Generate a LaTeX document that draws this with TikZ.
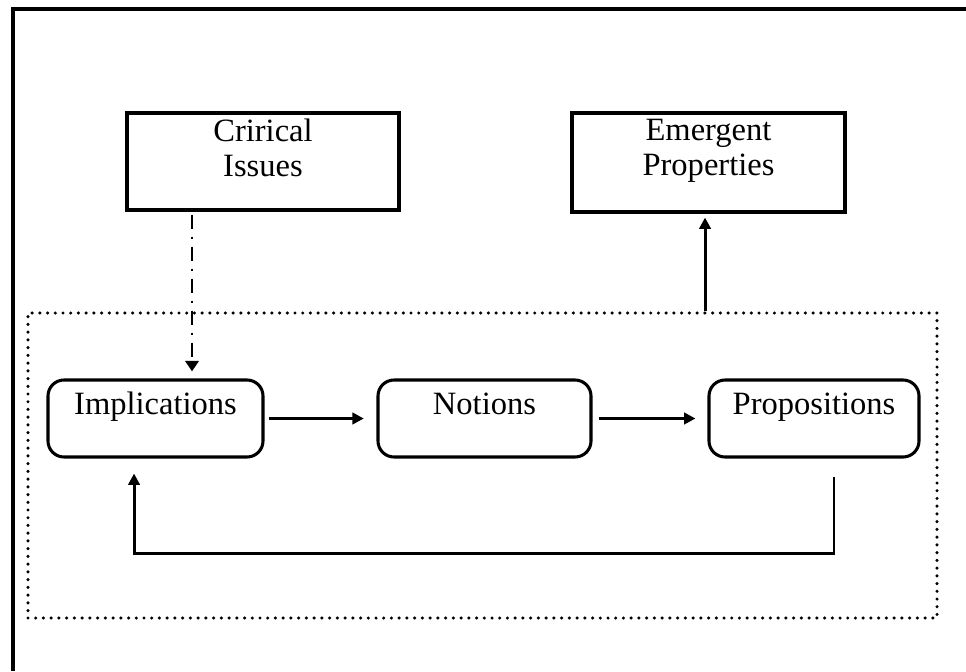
\documentclass[tikz,border=0pt]{standalone}
\usepackage{fontspec}
\setmainfont{Liberation Serif}
\usetikzlibrary{arrows.meta}
\begin{document}
\begin{tikzpicture}[x=0.75pt,y=-0.75pt,
  frame/.style={line width=3pt},
  txt/.style={font=\fontsize{24.4}{26}\selectfont, inner sep=0pt, align=center},
  sqbox/.style={draw, line width=2.3pt, inner sep=0pt},
  rbox/.style={draw, line width=2.3pt, rounded corners=12pt, inner sep=0pt,
    minimum height=57.75pt, text height=25.5pt, text depth=32.25pt,
    font=\fontsize{24.4}{26}\selectfont},
  dotbox/.style={draw, line width=2.6pt, line cap=round,
    dash pattern=on 0pt off 5.8pt, inner sep=0pt},
  arr/.style={line width=2.2pt, -{Triangle[length=8.5pt,width=8.5pt]}},
  dasharr/.style={line width=2.2pt,
    dash pattern=on 10.5pt off 6pt on 1.5pt off 6pt,
    -{Triangle[length=8pt,width=10pt]}}
]
\useasboundingbox (0,0) rectangle (966,671);

% outer frame (left and top edges)
\draw[frame] (13,671) -- (13,9) -- (966,9);

% upper boxes
\node[sqbox, minimum width=204pt, minimum height=72.75pt] (crit) at (263,161.5) {};
\node[txt, anchor=north] (critT) at ([yshift=-5.5pt]crit.north) {Crirical\\Issues};
\node[sqbox, minimum width=204.75pt, minimum height=74.25pt] (emerg) at (708.5,162.5) {};
\node[txt, anchor=north] (emergT) at ([yshift=-5.5pt]emerg.north) {Emergent\\Properties};

% dotted grouping frame
\node[dotbox, minimum width=681.75pt, minimum height=228.75pt] (group) at (482.5,465.5) {};

% process boxes
\node[rbox, minimum width=161.25pt] (impl) at (155.5,418.5) {Implications};
\node[rbox, minimum width=159.75pt] (notions) at (484.5,418.5) {Notions};
\node[rbox, minimum width=157.5pt] (props) at (814,418.5) {Propositions};

% forward flow
\draw[arr, shorten <=3pt, shorten >=9.5pt] (impl.east) -- (notions.west);
\draw[arr, shorten <=4.5pt, shorten >=9pt] (notions.east) -- (props.west);

% critical issues feed implications
\coordinate (dd) at ([xshift=-53.25pt]crit.south);
\draw[dasharr, shorten <=2.25pt, shorten >=5.25pt] (dd) -- (dd |- impl.north);

% group yields emergent properties
\coordinate (em) at ([xshift=-2.6pt]emerg.south);
\draw[arr, shorten >=3pt] (em |- group.north) -- (em);

% feedback loop
\coordinate (fbR) at ([xshift=15pt,yshift=-13.5pt]props.south);
\coordinate (fbL) at ([xshift=-16.1pt]impl.south);
\draw[arr, shorten >=11.25pt] (fbR) -- ++(0,77) -| (fbL);
\end{tikzpicture}
\end{document}
